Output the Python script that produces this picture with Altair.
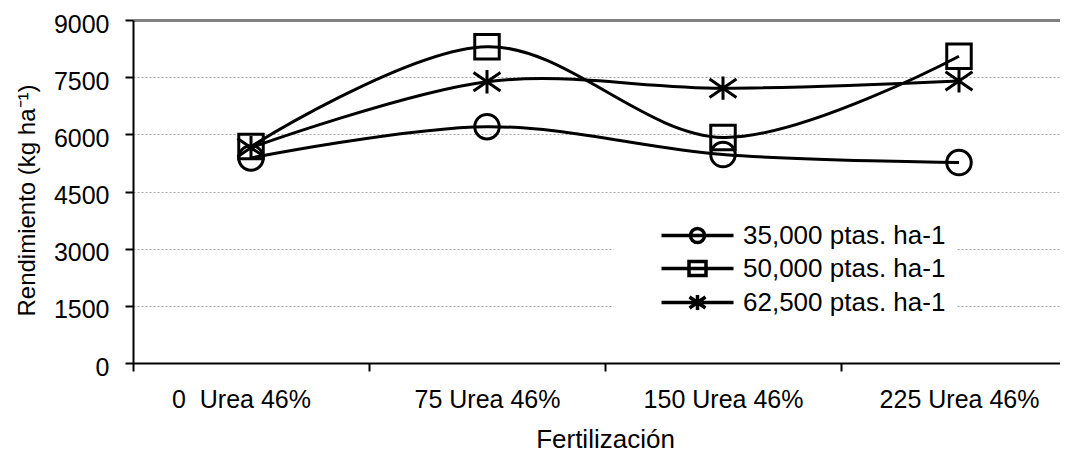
import altair as alt
import pandas as pd

# ---------------- data ----------------
CATEGORIES = ["0\u00a0 Urea 46%", "75 Urea 46%", "150 Urea 46%", "225 Urea 46%"]
SERIES = ["35,000 ptas. ha-1", "50,000 ptas. ha-1", "62,500 ptas. ha-1"]
S35 = [5380, 6200, 5470, 5260]
S50 = [5680, 8300, 5920, 8050]
S62 = [5650, 7380, 7210, 7400]
Y_TICKS = [0, 1500, 3000, 4500, 6000, 7500, 9000]

rows = []
for name, vals in zip(SERIES, [S35, S50, S62]):
    for i, (cat, v) in enumerate(zip(CATEGORIES, vals)):
        rows.append({"serie": name, "leyenda": name, "cat": cat, "pos": i + 0.5, "rend": v})
df = pd.DataFrame(rows)

# ---------------- layout ----------------
W, H = 927, 343
BAND = 236
XMAX = W / BAND
FONT = "Liberation Sans"

cat_js = "[" + ",".join("'" + c + "'" for c in CATEGORIES) + "]"
x_vals = [v / 2 for v in range(0, 2 * len(CATEGORIES))]

x_enc = alt.X(
    "pos:Q",
    scale=alt.Scale(domain=[0, XMAX], nice=False, zero=False),
    axis=alt.Axis(
        values=x_vals,
        labelExpr="datum.value % 1 !== 0 ? " + cat_js + "[floor(datum.value)] : ''",
        labelOverlap=False,
        labelFlush=False,
        labelFont=FONT, labelFontSize=25, labelColor="black",
        labelBaseline="alphabetic", labelPadding=36,
        labelOffset={"condition": {"test": "datum.value < 1", "value": -10}, "value": 0},
        tickSize=8, tickWidth=2, tickColor="black",
        tickOpacity={"condition": {"test": "datum.value % 1 === 0", "value": 1}, "value": 0},
        domainColor="black", domainWidth=2,
        grid=False,
        title="Fertilización", titleFont=FONT, titleFontSize=26,
        titleFontWeight="normal", titleColor="black",
        titleX=472, titleY=84, titleBaseline="alphabetic", titleAlign="center",
    ),
)

y_enc = alt.Y(
    "rend:Q",
    scale=alt.Scale(domain=[0, 9000], nice=False),
    axis=alt.Axis(
        values=Y_TICKS, format="d",
        labelFont=FONT, labelFontSize=25, labelColor="black",
        labelPadding=16, labelOffset=4,
        tickSize=8, tickWidth=2, tickColor="black",
        domainColor="black", domainWidth=2,
        grid=True,
        gridColor={"condition": {"test": "datum.value === 9000", "value": "#808080"}, "value": "#a8a8a8"},
        gridWidth={"condition": {"test": "datum.value === 9000", "value": 3}, "value": 1},
        gridDash={"condition": {"test": "datum.value === 9000", "value": []}, "value": [2, 2]},
        title="Rendimiento (kg ha⁻¹)", titleFont=FONT, titleFontSize=24,
        titleFontWeight="normal", titleColor="black",
        titleAngle=270, titleX=-106, titleY=180, titleBaseline="middle", titleAlign="center",
    ),
)

# plot markers
ASTERISK = "M0,-0.95V0.95M-1.1,-0.75L1.1,0.75M-1.1,0.75L1.1,-0.75"
# legend symbols: line + marker (units of 10px with symbolSize 400)
LEG_CIRCLE = "M-3.6,0H3.6M0.7,0A0.7,0.7 0 1 1 -0.7,0A0.7,0.7 0 1 1 0.7,0Z"
LEG_SQUARE = "M-3.6,0H3.6M-0.85,-0.7H0.85V0.7H-0.85Z"
LEG_STAR = "M-3.6,0H3.6M0,-0.75V0.75M-0.8,-0.55L0.8,0.55M-0.8,0.55L0.8,-0.55"
shape_expr = (
    "datum.index === 0 ? '" + LEG_CIRCLE + "' : (datum.index === 1 ? '"
    + LEG_SQUARE + "' : '" + LEG_STAR + "')"
)

lines = alt.Chart(df).mark_line(
    interpolate="cardinal", tension=0, strokeWidth=3
).encode(
    x=x_enc, y=y_enc, order="pos:Q",
    color=alt.Color(
        "leyenda:N",
        scale=alt.Scale(domain=SERIES, range=["black", "black", "black"]),
        legend=alt.Legend(
            title=None, orient="none", legendX=481, legendY=192.5,
            fillColor="white", padding=10, rowPadding=5,
            symbolType={"expr": shape_expr},
            symbolSize=400, symbolStrokeWidth=3.5, symbolStrokeColor="black",
            symbolFillColor="transparent", symbolOpacity=1,
            symbolOffset=60.5, labelOffset=32.5,
            labelFont=FONT, labelFontSize=26, labelColor="black", labelLimit=400,
        ),
    ),
)

points = alt.Chart(df).mark_point(
    filled=False, size=600, strokeWidth=3, color="black", opacity=1
).encode(
    x=x_enc,
    y=y_enc,
    shape=alt.Shape(
        "serie:N",
        scale=alt.Scale(range=["circle", "square", ASTERISK]),
        legend=None,
    ),
)

chart = alt.layer(lines, points).properties(
    width=W, height=H,
    autosize=alt.AutoSizeParams(type="none"),
    padding={"left": 125, "top": 12, "right": 0, "bottom": 88},
    background="white",
).configure_view(stroke=None)

chart.save("out.html", embed_options={"renderer": "svg", "actions": False})
